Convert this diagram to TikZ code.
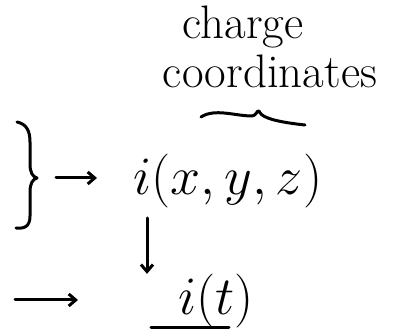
\documentclass[tikz,border=0pt]{standalone}
\usepackage{fix-cm}
\usetikzlibrary{arrows.meta}
\begin{document}
\begin{tikzpicture}[x=1pt,y=1pt,
  ink/.style={line width=3pt, line cap=round, line join=round},
  arr/.style={ink, -{Straight Barb[length=7pt,width=12pt,line width=3pt]}},
  lbl/.style={inner sep=0pt, font=\fontsize{47}{50}\selectfont},
  eq/.style={inner sep=0pt, font=\fontsize{54}{60}\selectfont}]
\useasboundingbox (0,0) rectangle (397,332);
% labels
\node[lbl] (charge) at (243,305) {charge};
\node[lbl] (coord) at (270,261) {coordinates};
\node[eq] (ixyz) at (228,151) {$i(x,y,z)$};
\node[eq] (it) at (216,31) {$i(t)$};
% tilde mark above i(x,y,z)
\draw[ink] (201,215) .. controls (215,224) and (235,216) .. (252,216)
  .. controls (256,216) and (257,222) .. (259,221)
  .. controls (261,216) and (268,211) .. (305,207);
% right brace
\draw[ink] (17,210) .. controls (26,208) and (30,202) .. (30,190)
  -- (30,168) .. controls (30,159) and (33,155) .. (37,154)
  .. controls (33,153) and (30,149) .. (30,140)
  -- (30,116) .. controls (30,106) and (25,103) .. (16,104);
\coordinate (btip) at (56,154);
\coordinate (bend) at (97,154);
\coordinate (dtop) at (147,114);
\coordinate (lstart) at (15,32);
\coordinate (lend) at (78,32);
% connectors
\draw[arr] (btip) -- (bend);
\draw[arr] (dtop) -- (dtop |- it.north);
\draw[arr] (lstart) -- (lend);
% underline under i(t)
\draw[ink] (151,4) -- (229,4);
\end{tikzpicture}
\end{document}
